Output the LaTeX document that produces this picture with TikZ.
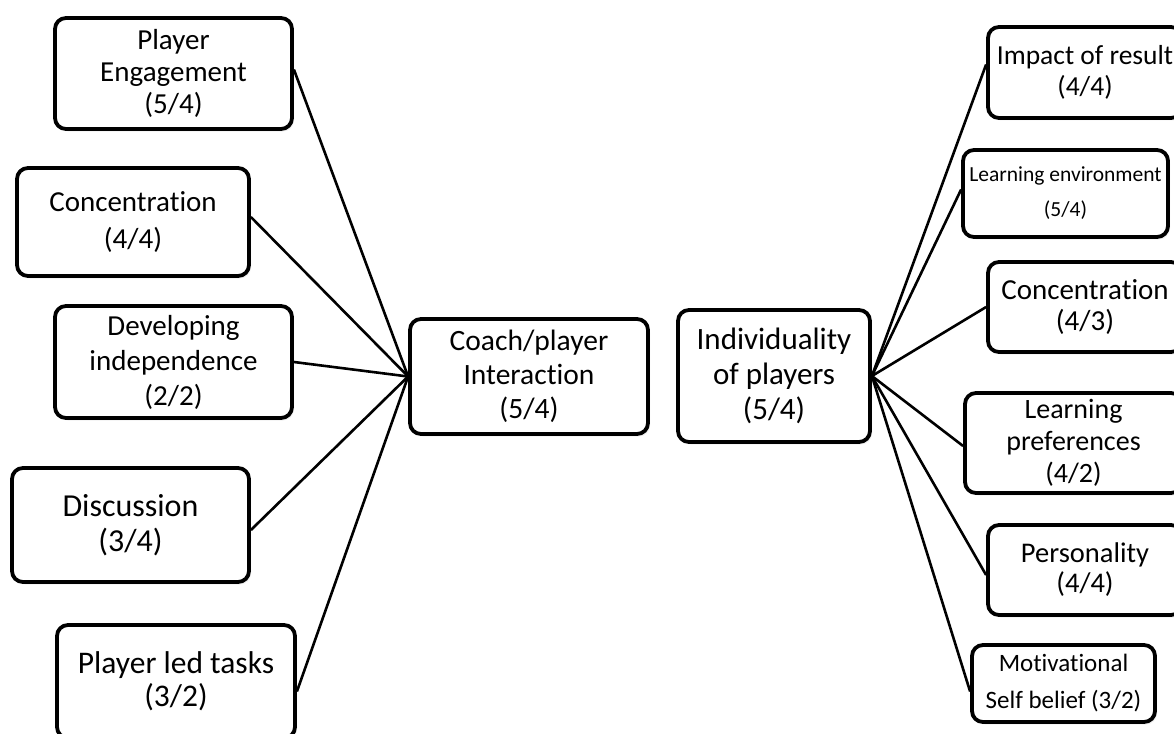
\documentclass[tikz,border=0pt]{standalone}
\usepackage{fontspec}
\setmainfont{Carlito}[Ligatures=NoCommon]
\usetikzlibrary{calc,shadows}
\begin{document}
\begin{tikzpicture}[x=1pt,y=-1pt,
  box/.style={draw=black, line width=3.8pt, rounded corners=11pt, fill=white,
    align=center, inner sep=0pt, font=\fontsize{29}{32}\selectfont,
    drop shadow={opacity=0.12, shadow xshift=2pt, shadow yshift=-2.5pt}},
  link/.style={draw=black, line width=2.6pt}]
\useasboundingbox (0,0) rectangle (1174,733);
\begin{scope}
\clip (0,0) rectangle (1174,733);
% a box given by its corners: name, extra options, x1, y1, x2, y2, text
\newcommand{\bx}[7]{%
  \node[box, #2, minimum width={#5-#3}, minimum height={#6-#4}, anchor=center]
    (#1) at ({(#3+#5)/2},{(#4+#6)/2}) {#7};}

% left branch
\bx{pe}{yshift=-1pt}{55}{17}{292}{128}{Player\\Engagement\\(5/4)}
\bx{cl}{font=\fontsize{29}{37}\selectfont}{17}{168}{249}{276}{Concentration\\(4/4)}
\bx{di}{font=\fontsize{29}{35}\selectfont}{55}{306}{292}{418}{Developing\\independence\\(2/2)}
\bx{ds}{font=\fontsize{32}{35}\selectfont}{12}{468}{249}{582}{Discussion\\(3/4)}
\bx{pl}{font=\fontsize{31.5}{33}\selectfont}{57}{625}{295}{738}{Player led tasks\\(3/2)}

% hubs
\bx{hl}{font=\fontsize{29.5}{34}\selectfont}{410}{319}{648}{434}{Coach/player\\Interaction\\(5/4)}
\bx{hr}{font=\fontsize{31}{35}\selectfont}{678}{310}{870}{442}{Individuality\\of players\\(5/4)}

% right branch
\bx{ir}{font=\fontsize{27.5}{31}\selectfont}{988}{27}{1182}{118}{Impact of result\\(4/4)}
\bx{le}{font=\fontsize{21.5}{35}\selectfont}{963}{150}{1168}{237}{Learning environment\\(5/4)}
\bx{cr}{font=\fontsize{29}{31}\selectfont}{988}{262}{1182}{352}{Concentration\\(4/3)}
\bx{lp}{font=\fontsize{28}{32}\selectfont}{965}{393}{1182}{493}{Learning\\preferences\\(4/2)}
\bx{ps}{font=\fontsize{28.5}{30}\selectfont}{988}{525}{1182}{615}{Personality\\(4/4)}
\bx{mv}{font=\fontsize{25}{37}\selectfont}{972}{645}{1155}{722}{Motivational\\Self belief (3/2)}

% connectors to the left hub
\draw[link] ([yshift=4]pe.east) -- (hl.west);
\draw[link] ([yshift=5]cl.east) -- (hl.west);
\draw[link] (di.east) -- (hl.west);
\draw[link] ([yshift=-5]ds.east) -- (hl.west);
\draw[link] ([yshift=-10]pl.east) -- (hl.west);

% connectors to the right hub
\draw[link] (hr.east) -- ([yshift=8]ir.west);
\draw[link] (hr.east) -- ([yshift=4]le.west);
\draw[link] (hr.east) -- (cr.west);
\draw[link] (hr.east) -- ([yshift=-3]lp.west);
\draw[link] (hr.east) -- ([yshift=-5]ps.west);
\draw[link] (hr.east) -- ([yshift=-8]mv.west);
\end{scope}
\end{tikzpicture}
\end{document}
